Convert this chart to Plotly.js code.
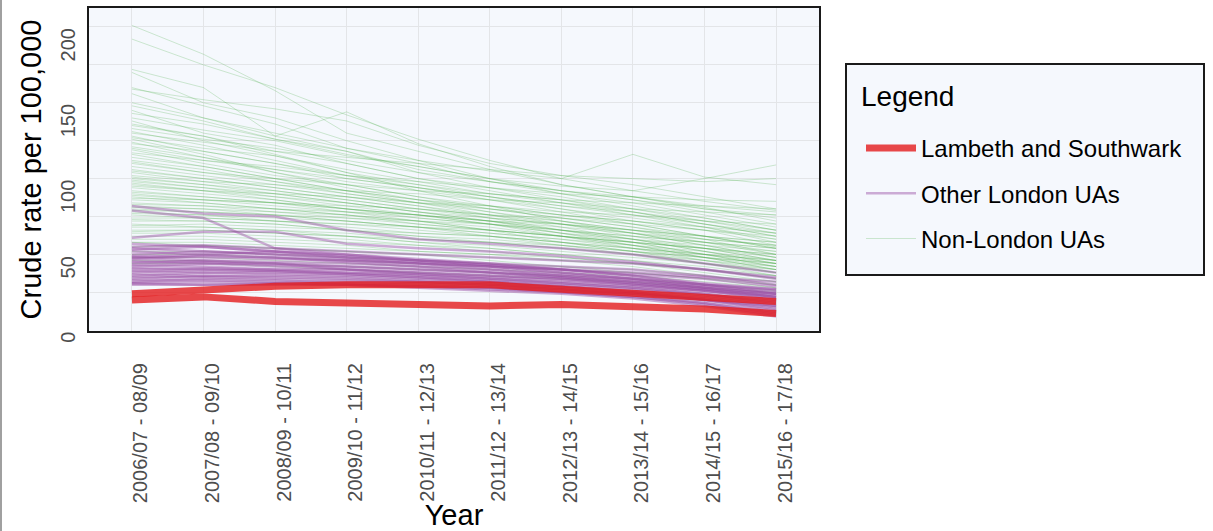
<!DOCTYPE html>
<html>
<head>
<meta charset="utf-8">
<script src="https://cdn.plot.ly/plotly-3.0.1.min.js"></script>
<style>html,body{margin:0;padding:0;background:#fff;}#chart{width:1213px;height:531px;}</style>
</head>
<body>
<div id="chart"></div>
<script>
// ---- Data ----
const years = ["2006/07 - 08/09","2007/08 - 09/10","2008/09 - 10/11","2009/10 - 11/12","2010/11 - 12/13",
               "2011/12 - 13/14","2012/13 - 14/15","2013/14 - 15/16","2014/15 - 16/17","2015/16 - 17/18"];

const lambeth   = [24, 27, 29, 30, 30, 30, 27, 24, 22, 19];
const southwark = [20, 22, 19, 18, 17, 16, 17, 16, 14, 11];

const otherLondon = [
  [82,77,75,66,60,57,54,50,44,38],
  [79,74,54,52,50,48,46,44,40,35],
  [61,65,65,57,54,52,49,45,40,34],
  [55,56,54,50,47,44,40,36,30,26],
  [53,55,52,48,45,42,38,34,30,24],
  [52,50,48,46,44,42,38,34,28,22],
  [50,52,50,47,44,40,36,32,28,24],
  [48,46,45,44,42,40,37,34,30,27],
  [47,49,48,45,42,38,35,31,27,22],
  [45,44,44,42,40,38,35,32,28,24],
  [44,46,44,40,38,36,34,30,26,20],
  [43,42,40,40,38,36,34,31,27,23],
  [42,44,42,40,37,34,31,28,24,19],
  [40,41,40,38,36,34,32,29,26,22],
  [39,38,38,37,35,33,31,28,24,18],
  [38,40,39,37,35,32,30,27,23,17],
  [37,36,36,35,33,31,29,26,22,16],
  [36,38,37,36,34,32,29,25,20,14],
  [35,35,34,33,32,30,28,25,21,15],
  [34,36,35,34,32,30,27,24,20,13],
  [33,33,32,32,31,29,27,23,18,12],
  [32,34,33,31,30,28,25,22,17,10],
  [31,30,30,30,29,27,25,22,18,11],
  [30,30,31,30,28,26,24,21,16,9],
  [57,55,52,49,46,43,40,36,31,27],
  [54,52,50,48,46,44,42,40,36,30],
  [49,48,47,46,44,42,40,37,34,29],
  [46,45,43,42,40,38,36,33,29,25],
  [41,40,39,38,37,35,33,30,26,21],
  [31,32,31,30,29,28,26,24,20,16],
  [48,50,52,50,46,43,40,38,35,32]
];

const nonLondon = [
  [201,182,158,130,118,106,96,88,80,74],
  [192,175,160,142,126,112,100,92,85,79],
  [172,160,128,144,123,108,96,88,81,72],
  [170,150,140,125,112,100,90,84,76,68],
  [160,148,136,120,110,98,90,82,74,66],
  [159,152,146,138,122,110,102,96,88,80],
  [156,140,128,118,104,94,86,78,70,62],
  [150,140,130,120,112,105,100,116,101,96],
  [145,130,122,110,100,92,84,76,68,58],
  [143,136,126,118,106,98,92,86,78,70],
  [140,132,125,115,108,100,95,92,100,109],
  [138,125,115,104,96,88,80,72,66,56],
  [135,128,118,110,100,94,88,80,72,64],
  [131,122,112,102,94,86,78,70,62,54],
  [127,120,115,106,98,90,84,78,70,62],
  [126,116,104,96,88,80,74,68,60,50],
  [123,118,110,102,96,90,86,80,74,66],
  [119,110,102,96,88,82,76,70,62,55],
  [114,108,100,92,86,80,74,68,62,54],
  [110,104,98,90,84,78,72,66,58,50],
  [105,100,94,88,82,76,70,64,58,52],
  [101,96,92,86,80,74,70,64,56,48],
  [99,94,88,82,76,72,66,60,54,46],
  [97,92,88,84,78,72,66,60,52,44],
  [92,88,84,80,76,70,64,58,50,42],
  [89,86,82,78,72,66,62,56,48,40],
  [86,84,80,76,72,68,62,56,50,44],
  [81,80,76,72,68,64,60,54,48,42],
  [77,76,72,70,66,62,58,52,46,40],
  [73,72,70,66,62,58,54,50,44,38],
  [68,68,66,62,58,54,50,46,40,34],
  [64,64,62,60,56,52,48,44,38,32],
  [60,60,58,56,52,50,46,42,36,30],
  [55,56,54,52,50,46,42,38,34,28],
  [148,138,126,116,108,100,92,86,80,76],
  [133,126,120,112,104,98,92,88,82,78],
  [128,118,110,100,94,88,82,76,70,64],
  [121,114,106,98,92,86,80,74,68,60],
  [117,112,106,100,94,88,82,78,72,66],
  [112,106,98,92,86,82,76,72,66,60],
  [108,102,96,90,84,80,76,72,68,64],
  [104,98,92,86,80,76,72,66,60,56],
  [100,96,90,84,78,74,70,66,62,58],
  [96,92,86,80,74,70,66,62,58,54],
  [94,90,86,80,76,72,68,64,60,56],
  [91,88,84,78,74,70,64,60,56,52],
  [88,84,80,76,70,66,62,58,54,48],
  [84,82,78,74,70,66,62,58,54,50],
  [80,78,76,72,68,64,60,56,52,46],
  [76,74,72,68,64,62,58,54,50,46],
  [72,72,70,66,62,60,56,52,48,44],
  [70,68,66,64,60,58,54,50,46,42],
  [66,66,64,62,58,56,52,48,44,40],
  [62,62,60,58,56,54,50,46,42,36],
  [58,58,56,54,52,50,48,44,40,36],
  [52,52,50,48,46,44,42,40,36,32],
  [48,48,46,44,42,40,38,36,32,28],
  [44,44,42,40,38,36,34,32,28,25],
  [120,112,108,102,98,94,90,88,86,85],
  [130,124,118,114,110,106,102,100,98,100],
  [111,104,100,96,92,90,86,84,82,80],
  [102,98,96,92,90,86,84,80,78,76],
  [95,92,90,88,84,82,78,76,72,70],
  [87,86,84,82,80,76,74,70,66,62],
  [83,82,80,78,76,72,70,66,62,58],
  [79,78,76,74,72,70,66,62,58,54],
  [74,74,72,70,68,66,62,58,54,50],
  [69,70,68,66,64,62,58,54,50,46],
  [65,66,64,62,60,58,56,52,48,44],
  [136,128,116,104,92,82,72,64,56,48],
  [124,114,104,94,86,78,70,62,54,46],
  [116,108,100,92,84,76,68,60,52,44],
  [106,100,94,88,82,74,66,58,50,42],
  [98,94,90,84,78,72,64,56,48,40],
  [90,86,84,80,76,70,62,54,46,38],
  [82,80,78,76,72,66,58,52,44,36],
  [78,76,74,72,68,62,56,50,44,38],
  [58,56,54,52,50,48,46,44,40,34],
  [50,50,48,46,44,42,40,38,34,30],
  [46,46,44,42,40,38,36,34,30,26]
];

const yTickVals = [0, 50, 100, 150, 200];
const yTickText = ["0", "50", "100", "150", "200"];

const seriesNames = ["Lambeth and Southwark", "Other London UAs", "Non-London UAs"];
const legendTitle = "Legend";

// ---- Styles ----
const FONT = "Liberation Sans, Arial, sans-serif";
const GREEN = "rgba(77,175,74,0.26)";
const PURPLE = "rgba(152,78,163,0.45)";
const RED = "rgba(228,26,28,0.8)";
const PANEL_BG = "#F5F8FD";

const traces = [];
nonLondon.forEach((row, i) => traces.push({
  type: "scatter", mode: "lines", x: years, y: row,
  name: seriesNames[2], legendgroup: "g3", legendrank: 3, showlegend: i === 0,
  line: {color: GREEN, width: 1}, hoverinfo: "skip"
}));
otherLondon.forEach((row, i) => traces.push({
  type: "scatter", mode: "lines", x: years, y: row,
  name: seriesNames[1], legendgroup: "g2", legendrank: 2, showlegend: i === 0,
  line: {color: PURPLE, width: 2.5}, hoverinfo: "skip"
}));
[lambeth, southwark].forEach((row, i) => traces.push({
  type: "scatter", mode: "lines", x: years, y: row,
  name: seriesNames[0], legendgroup: "g1", legendrank: 1, showlegend: i === 0,
  line: {color: RED, width: 7}, hoverinfo: "skip"
}));

// plot area in pixels: x 89..819, y 8..331
const L = 89, R = 819, T = 8, B = 331;
const W = R - L, H = B - T;
const px = v => (v - L) / W;
const py = v => (B - v) / H;

const annotations = yTickVals.map((v, i) => ({
  xref: "paper", x: px(68), xanchor: "center",
  yref: "y", y: v, yanchor: "top",
  text: yTickText[i], textangle: -90, showarrow: false,
  font: {family: FONT, size: 20, color: "#4D4D4D"}
}));
annotations.push({
  xref: "paper", x: px(859), xanchor: "left",
  yref: "paper", y: py(96), yanchor: "middle",
  text: legendTitle, showarrow: false,
  font: {family: FONT, size: 28, color: "#000000"}
});

const layout = {
  width: 1213, height: 531,
  margin: {l: L, r: 1213 - R, t: T, b: 531 - B, pad: 0},
  paper_bgcolor: "#FFFFFF",
  plot_bgcolor: PANEL_BG,
  font: {family: FONT, color: "#000000"},
  showlegend: true,
  hovermode: false,
  xaxis: {
    type: "category", range: [-0.6, 9.6],
    tickangle: -90, tickfont: {family: FONT, size: 20, color: "#4D4D4D"},
    ticks: "", ticklabelshift: 9, ticklabelstandoff: 22,
    showgrid: true, gridcolor: "#E3E5E8", gridwidth: 1,
    showline: true, mirror: true, linecolor: "#1A1A1A", linewidth: 2,
    zeroline: false,
    title: {text: "Year", font: {family: FONT, size: 29, color: "#000000"}}
  },
  yaxis: {
    range: [-0.5, 212.5], tick0: 0, dtick: 25,
    showticklabels: false, ticks: "",
    showgrid: true, gridcolor: "#E3E5E8", gridwidth: 1,
    showline: true, mirror: true, linecolor: "#1A1A1A", linewidth: 2,
    zeroline: false, automargin: true,
    title: {text: "Crude rate per 100,000", standoff: 37, font: {family: FONT, size: 29, color: "#000000"}}
  },
  legend: {
    x: px(861), xanchor: "left",
    y: py(126), yanchor: "top",
    bgcolor: "rgba(0,0,0,0)", borderwidth: 0,
    font: {family: FONT, size: 24, color: "#000000"},
    traceorder: "grouped", tracegroupgap: 11, itemwidth: 50
  },
  shapes: [
    {type: "rect", xref: "paper", yref: "paper", x0: px(846), x1: px(1204), y0: py(275), y1: py(64),
     line: {color: "#1A1A1A", width: 2}, fillcolor: PANEL_BG, layer: "below"},
    {type: "line", xref: "paper", yref: "paper", x0: px(1), x1: px(1), y0: py(531), y1: py(0),
     line: {color: "#A0A0A0", width: 2}}
  ],
  annotations: annotations
};

Plotly.newPlot("chart", traces, layout, {displayModeBar: false, staticPlot: true});
</script>
</body>
</html>
